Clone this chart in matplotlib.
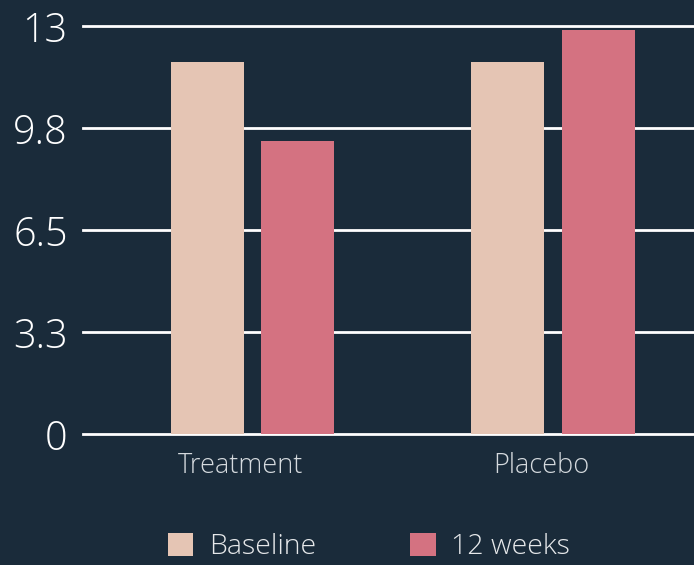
import matplotlib
matplotlib.use('Agg')
from matplotlib import pyplot as plt
from matplotlib.patches import Patch

groups = ['Treatment', 'Placebo']
series = ['Baseline', '12 weeks']
baseline = [11.85, 11.85]
weeks12 = [9.35, 12.87]
yticks = [0, 3.25, 6.5, 9.75, 13]
ytick_labels = ['0', '3.3', '6.5', '9.8', '13']

bg = '#1a2b3a'
colors = ['#e5c5b4', '#d47281']

plt.rcParams['font.family'] = ['Open Sans', 'DejaVu Sans']
plt.rcParams['font.weight'] = 'light'

fig = plt.figure(figsize=(6.94, 5.65), dpi=100, facecolor=bg)
ax = fig.add_axes([83/694, 1-434/565, 610/694, 408/565])
ax.set_facecolor(bg)

x = list(range(len(groups)))
w = 0.243
ax.bar([i - 0.15 for i in x], baseline, width=w, color=colors[0], zorder=3)
ax.bar([i + 0.15 for i in x], weeks12, width=w, color=colors[1], zorder=3)

ax.set_xlim(-0.564, 1.466)
ax.set_ylim(0, 13)
ax.set_yticks(yticks)
ax.set_yticklabels(ytick_labels, fontsize=28.5, color='white')
ax.set_xticks([i - 0.04 for i in x])
ax.set_xticklabels(groups, fontsize=19.5, color='#d5dade')
ax.tick_params(axis='y', length=0, pad=11)
ax.tick_params(axis='x', length=0, pad=13)
ax.yaxis.grid(True, color='white', linewidth=2, zorder=1)
for line in ax.get_ygridlines():
    line.set_clip_on(False)
ax.set_axisbelow(True)
for s in ax.spines.values():
    s.set_visible(False)

handles = [Patch(facecolor=c, edgecolor='none') for c in colors]
leg = fig.legend(handles, series, loc='center', bbox_to_anchor=(369/694, 1-547/565),
                 ncol=2, frameon=False, fontsize=20.5, handlelength=0.9, handleheight=0.9,
                 handletextpad=0.55, columnspacing=3.3, labelcolor='#e6e8ea')

fig.savefig('out.png', dpi=100, facecolor=bg)
